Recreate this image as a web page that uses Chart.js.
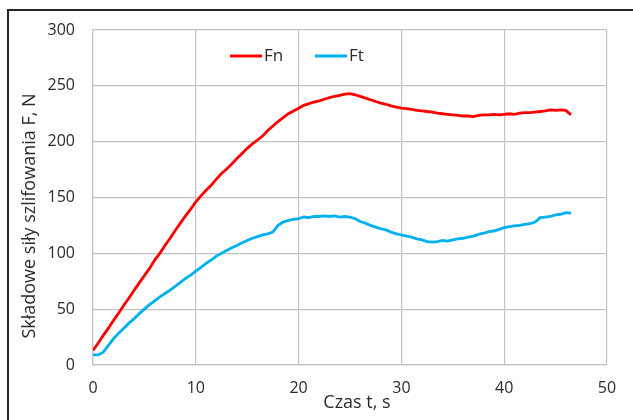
<!DOCTYPE html>
<html>
<head>
<meta charset="utf-8">
<script src="https://cdn.jsdelivr.net/npm/chart.js@4.4.1/dist/chart.umd.min.js"></script>
<style>
  body{margin:0;background:#fff;}
  #wrap{position:relative;width:633px;height:420px;overflow:hidden;}
  #frame{position:absolute;left:7px;top:9px;width:640px;height:420px;border-left:2px solid #262626;border-top:2px solid #262626;}
  #myChart{position:absolute;left:0;top:0;}
</style>
</head>
<body>
<div id="wrap">
  <div id="frame"></div>
  <canvas id="myChart" width="633" height="420"></canvas>
</div>
<script>
'use strict';
// czas pomiaru, s (co 0.5 s)
let time=[];
for(let i=0; i<=93; i++){
  time.push(i*0.5);
}

let fnValues=[
  13,19.5,26.5,33,40,46.5,53.5,60,67,73.5,
  80,86.5,94,100,107,113.5,120.5,127,133.5,139.5,
  146,151.5,156.5,161,166.5,171.5,175.5,180,185,189.5,
  194,198,201.5,205,210,214,218,221.5,225,227.5,
  230,232.5,234,235.5,236.5,238,239.5,240.5,241.5,242.5,
  243,242,240.5,239,237.5,236,234.5,233.5,232,231,
  230,229.5,229,228,227.5,227,226.5,225.5,225,224.5,
  224,223.5,223,223,222.5,223.5,224,224,224.5,224,
  224.5,225,224.5,225.5,226,226,226.5,227,227.5,228.5,
  228,228.5,228,224
];

let ftValues=[
  9,9,11.5,17.5,23.5,28.5,33,37.5,41.5,46,
  50,54,57.5,61,64,67,70.5,74,77.5,80.5,
  84,87.5,91,94,97.5,100,102.5,105,107,109.5,
  111.5,113.5,115,116.5,117.5,119,125,128,129.5,130.5,
  131,132.5,132,133,133,133.5,133,133.5,132.5,133,
  132.5,131,128.5,127,125,123.5,122,121,119,117.5,
  116.5,115.5,114.5,113,112,110.5,110,110.5,111.5,111,
  112,113,113.5,114.5,115.5,117,118,119.5,120,121.5,
  123,124,124.5,125,126,126.5,128,132,132.5,133,
  134.5,135,136.5,136
];

let seriesNames=['Fn','Ft'];
let seriesColors=['#ff0000','#00b0f0'];
let xTitle='Czas t, s';
let yTitle='Składowe siły szlifowania F, N';

let fontFamily='"Open Sans", Lato, sans-serif';
let textColor='#2b2b2b';

function toPoints(values){
  let points=[];
  for(let i=0; i<values.length; i++){
    points.push({x: time[i], y: values[i]});
  }
  return points;
}

// legenda i tytuly osi rysowane recznie (polozenie jak w oryginale)
let extraText={
  id: 'extraText',
  afterDraw(chart){
    let ctx=chart.ctx;
    let area=chart.chartArea;
    ctx.save();
    ctx.font='17px '+fontFamily;
    ctx.fillStyle=textColor;
    ctx.textBaseline='middle';

    let legendX=[area.left+137, area.left+222];
    let legendY=area.top+26;
    chart.data.datasets.forEach((ds, i)=>{
      ctx.strokeStyle=ds.borderColor;
      ctx.lineWidth=3;
      ctx.beginPath();
      ctx.moveTo(legendX[i], legendY);
      ctx.lineTo(legendX[i]+32, legendY);
      ctx.stroke();
      ctx.fillText(ds.label, legendX[i]+34, legendY);
    });

    ctx.font='18px '+fontFamily;
    ctx.textAlign='center';
    ctx.fillText(xTitle, area.left+264, area.bottom+38);

    ctx.translate(30, area.top+186);
    ctx.rotate(-Math.PI/2);
    ctx.fillText(yTitle, 0, 0);
    ctx.restore();
  }
};

let ctx=document.getElementById('myChart').getContext('2d');
let myChart=new Chart(ctx, {
  type: 'scatter',
  data: {
    datasets: [{
      label: seriesNames[0],
      data: toPoints(fnValues),
      showLine: true,
      borderColor: seriesColors[0],
      backgroundColor: seriesColors[0],
      borderWidth: 2.8,
      pointRadius: 0,
      tension: 0
    },
    {
      label: seriesNames[1],
      data: toPoints(ftValues),
      showLine: true,
      borderColor: seriesColors[1],
      backgroundColor: seriesColors[1],
      borderWidth: 2.8,
      pointRadius: 0,
      tension: 0
    }]
  },
  options: {
    responsive: false,
    animation: false,
    layout: {
      padding: {top: 30, right: 26, left: 0, bottom: 0}
    },
    plugins: {
      legend: {display: false},
      tooltip: {enabled: false}
    },
    scales: {
      x: {
        type: 'linear',
        min: 0,
        max: 50,
        afterFit(scale){ scale.height=55; },
        ticks: {
          stepSize: 10,
          padding: 14,
          color: textColor,
          font: {family: fontFamily, size: 16}
        },
        grid: {color: '#c4c4c4', lineWidth: 1.2, drawTicks: false},
        border: {color: '#c4c4c4', width: 1.2}
      },
      y: {
        min: 0,
        max: 300,
        afterFit(scale){ scale.width=93; },
        ticks: {
          stepSize: 50,
          padding: 18,
          color: textColor,
          font: {family: fontFamily, size: 16}
        },
        grid: {color: '#c4c4c4', lineWidth: 1.2, drawTicks: false},
        border: {color: '#c4c4c4', width: 1.2}
      }
    }
  },
  plugins: [extraText]
});
</script>
</body>
</html>
